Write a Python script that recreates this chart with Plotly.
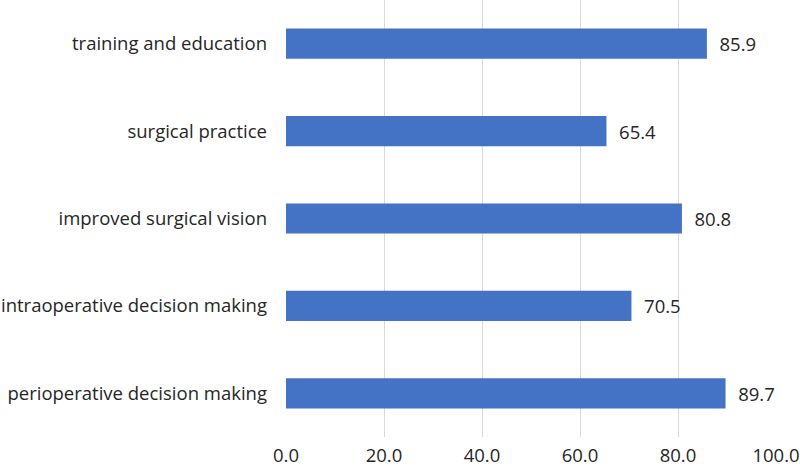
import plotly.graph_objects as go

categories = ["perioperative decision making", "intraoperative decision making",
              "improved surgical vision", "surgical practice", "training and education"]
values = [89.7, 70.5, 80.8, 65.4, 85.9]
tick_vals = [0, 20, 40, 60, 80, 100]
tick_text = ["0.0", "20.0", "40.0", "60.0", "80.0", "100.0"]

FONT = "Open Sans"
TXT = "#262626"
FS = 18.5

fig = go.Figure(go.Bar(
    y=categories, x=values, orientation="h",
    marker=dict(color="#4472C4", line=dict(width=0)),
    text=[f"{v:.1f}" for v in values],
    texttemplate="  %{text}",
    textposition="outside",
    textfont=dict(family=FONT, size=FS, color=TXT),
    cliponaxis=False,
    hoverinfo="skip",
))

fig.update_layout(
    width=800, height=469,
    margin=dict(l=286, r=24, t=0, b=32),
    paper_bgcolor="white", plot_bgcolor="white",
    bargap=0.655,
    showlegend=False,
    font=dict(family=FONT, size=FS, color=TXT),
)
fig.update_xaxes(
    range=[0, 100], tickvals=tick_vals, ticktext=tick_text,
    showgrid=True, gridcolor="#d9d9d9", gridwidth=1,
    zeroline=False, showline=False, ticks="",
    ticklabelstandoff=5,
    automargin=False,
    tickfont=dict(family=FONT, size=FS, color=TXT),
)
fig.update_yaxes(
    categoryorder="array", categoryarray=categories,
    showgrid=False, zeroline=False, showline=False, ticks="",
    ticklabelstandoff=18,
    automargin=False,
    tickfont=dict(family=FONT, size=FS, color=TXT),
)

fig.write_html("out.html", config={"displayModeBar": False},
               post_script="document.body.style.margin='0';")
